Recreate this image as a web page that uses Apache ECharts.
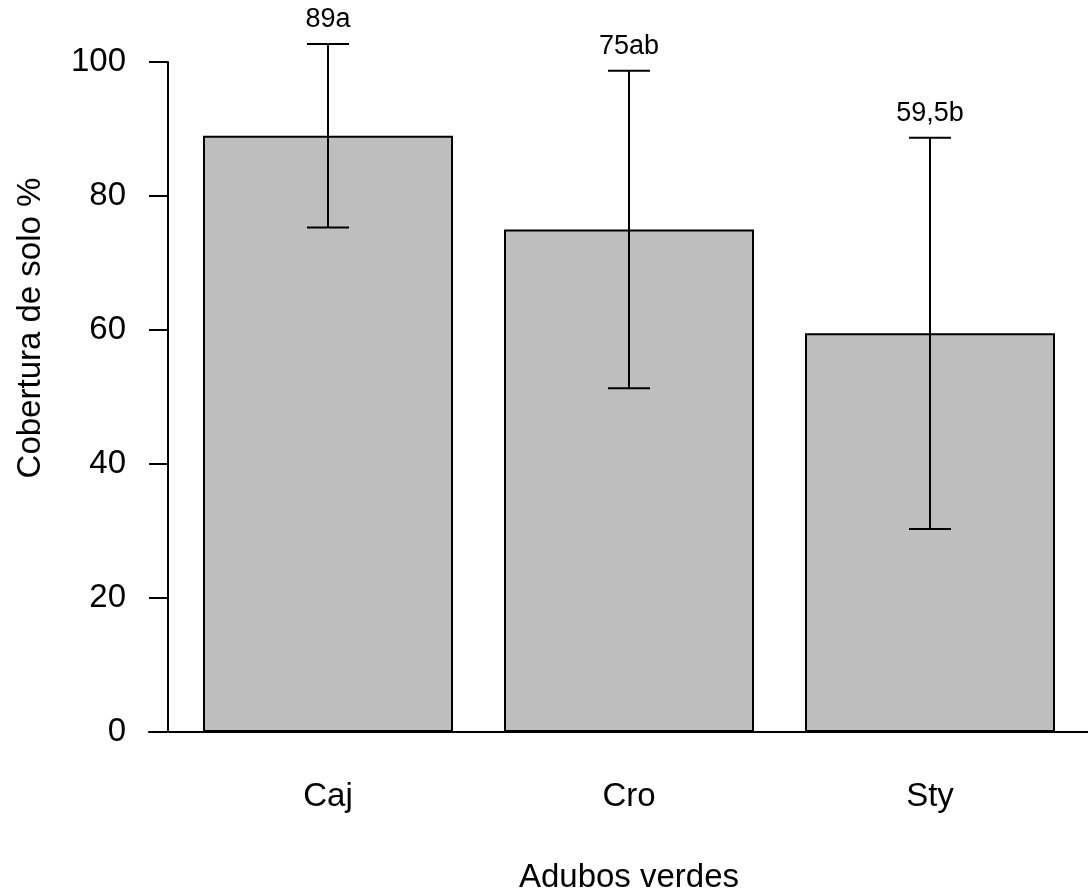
<!DOCTYPE html>
<html>
<head>
<meta charset="utf-8">
<title>Cobertura de solo</title>
<script src="https://cdn.jsdelivr.net/npm/echarts@6/dist/echarts.min.js"></script>
<style>
  html, body { margin: 0; padding: 0; background: #ffffff; }
  #chart { width: 1088px; height: 894px; }
</style>
</head>
<body>
<div id="chart"></div>
<script>
// data
var categories = ["Caj", "Cro", "Sty"];
var means = [89, 75, 59.5];
var sds = [13.7, 23.7, 29.2];
var letters = ["89a", "75ab", "59,5b"];
var yTicks = [0, 20, 40, 60, 80, 100];

var font = '"Liberation Sans", Arial, sans-serif';
var ink = "#000000";

// rows for the error bar series: [index, mean, sd]
var errData = categories.map(function (c, i) {
  return [i, means[i], sds[i]];
});

var chart = echarts.init(document.getElementById("chart"));

var option = {
  backgroundColor: "#ffffff",
  animation: false,
  grid: [
    { left: 177.5, right: 7.5, top: 62, bottom: 162, outerBoundsMode: "none", containLabel: false },
    // wider grid only used for the long baseline
    { left: 149, right: 0, top: 62, bottom: 162, outerBoundsMode: "none", containLabel: false }
  ],
  xAxis: [
    {
      type: "category",
      gridIndex: 0,
      data: categories,
      name: "Adubos verdes",
      nameLocation: "middle",
      nameGap: 129,
      nameTextStyle: { fontFamily: font, fontSize: 33, color: ink, lineHeight: 33 },
      axisLine: { show: false },
      axisTick: { show: false },
      axisLabel: { fontFamily: font, fontSize: 33, color: ink, margin: 48, lineHeight: 33 }
    },
    {
      type: "value",
      gridIndex: 1,
      min: 0,
      max: 1,
      axisLine: { show: true, onZero: false, lineStyle: { color: ink, width: 2 } },
      axisTick: { show: false },
      axisLabel: { show: false },
      splitLine: { show: false }
    }
  ],
  yAxis: [
    {
      type: "value",
      gridIndex: 0,
      min: yTicks[0],
      max: yTicks[yTicks.length - 1],
      interval: yTicks[1] - yTicks[0],
      offset: 9.5,
      name: "Cobertura de solo %",
      nameLocation: "middle",
      nameGap: 121,
      nameTextStyle: {
        fontFamily: font, fontSize: 33, color: ink, lineHeight: 33,
        padding: [0, 0, 0, 138]
      },
      axisLine: { show: true, lineStyle: { color: ink, width: 2 } },
      axisTick: { show: true, length: 19, lineStyle: { color: ink, width: 2 } },
      axisLabel: { fontFamily: font, fontSize: 33, color: ink, margin: 42, padding: [5, 0, 0, 0] },
      splitLine: { show: false }
    },
    { type: "value", gridIndex: 1, show: false }
  ],
  series: [
    {
      type: "bar",
      xAxisIndex: 0,
      yAxisIndex: 0,
      data: means,
      barWidth: 250,
      itemStyle: { color: "#bebebe", borderColor: ink, borderWidth: 2 },
      z: 2
    },
    {
      type: "custom",
      xAxisIndex: 0,
      yAxisIndex: 0,
      data: errData,
      z: 3,
      renderItem: function (params, api) {
        var i = api.value(0);
        var m = api.value(1);
        var s = api.value(2);
        var hi = api.coord([i, m + s]);
        var lo = api.coord([i, m - s]);
        var half = 21;
        var st = { stroke: ink, lineWidth: 2 };
        return {
          type: "group",
          children: [
            { type: "line", shape: { x1: hi[0], y1: hi[1], x2: lo[0], y2: lo[1] }, style: st },
            { type: "line", shape: { x1: hi[0] - half, y1: hi[1], x2: hi[0] + half, y2: hi[1] }, style: st },
            { type: "line", shape: { x1: lo[0] - half, y1: lo[1], x2: lo[0] + half, y2: lo[1] }, style: st },
            {
              type: "text",
              x: hi[0],
              y: hi[1] - 24,
              style: {
                text: letters[params.dataIndex],
                font: "27px " + font,
                fill: ink,
                align: "center",
                verticalAlign: "middle"
              }
            }
          ]
        };
      }
    }
  ]
};

option && chart.setOption(option);
</script>
</body>
</html>
